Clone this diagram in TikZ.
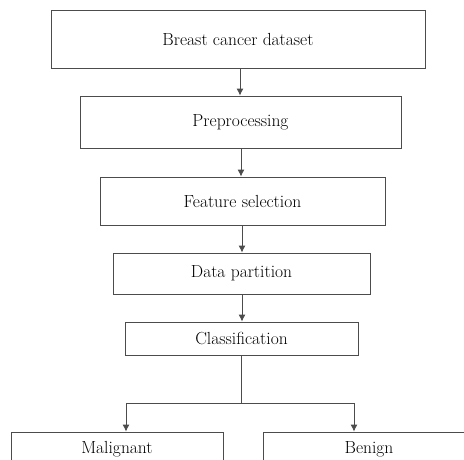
\documentclass[tikz,border=0pt]{standalone}
\usepackage{tikz}
\usetikzlibrary{arrows, arrows.meta, positioning, calc}
\definecolor{linegray}{rgb}{.30,.30,.30}

\begin{document}
\begin{tikzpicture}[x=1pt, y=1pt, >={Latex[length=7pt,width=7pt]},
    stage/.style={draw=linegray, line width=0.9pt, rectangle, inner sep=0pt,
        font=\fontsize{17.5}{20}\selectfont, text=black},
    flow/.style={->, draw=linegray, line width=0.9pt}]
\useasboundingbox (0,0) rectangle (464,-459);
% pipeline boxes
\node[stage, minimum width=374pt, minimum height=58pt] (data) at (238,-39) {Breast cancer dataset};
\node[stage, minimum width=321pt, minimum height=52pt] (prep) at (240.5,-122) {Preprocessing};
\node[stage, minimum width=285pt, minimum height=48pt] (feat) at (242.5,-201) {Feature selection};
\node[stage, minimum width=257pt, minimum height=41pt] (part) at (241.5,-273.5) {Data partition};
\node[stage, minimum width=233pt, minimum height=33pt] (cls) at (241.5,-338.5) {Classification};
% outcome boxes
\node[stage, minimum width=212pt, minimum height=34pt] (mal) at (117,-449) {Malignant};
\node[stage, minimum width=212pt, minimum height=34pt] (ben) at (369,-449) {Benign};
% arrows
\draw[flow] (240,-68) coordinate (d1) -- (d1 |- prep.north);
\draw[flow] (241,-148) coordinate (d2) -- (d2 |- feat.north);
\draw[flow] (242,-225) coordinate (d3) -- (d3 |- part.north);
\draw[flow] (242,-294) coordinate (d4) -- (d4 |- cls.north);
% split
\coordinate (split) at (241.5,-403);
\coordinate (lft) at (126,-403);
\coordinate (rgt) at (354,-403);
\draw[draw=linegray, line width=0.9pt] (cls.south) -- (split);
\draw[flow] (split) -- (lft) -- (lft |- mal.north);
\draw[flow] (split) -- (rgt) -- (rgt |- ben.north);
\end{tikzpicture}
\end{document}
